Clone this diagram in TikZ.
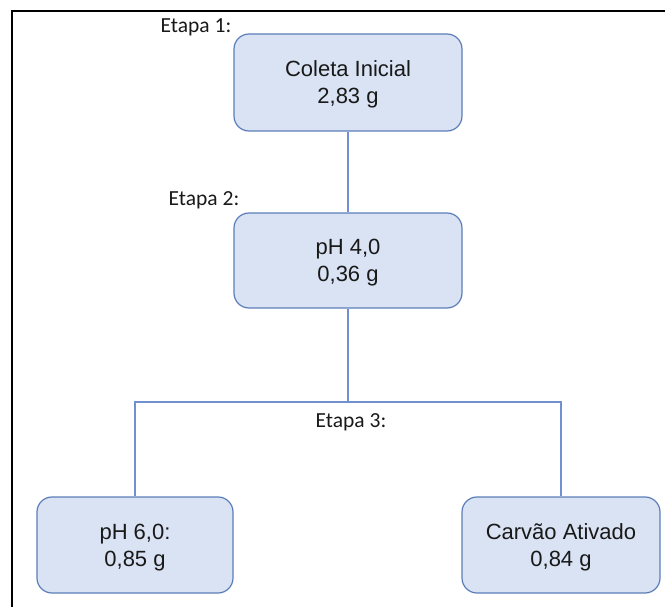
\documentclass[tikz,border=0pt]{standalone}
\usepackage{fontspec}
\setmainfont{Liberation Sans}
\newfontfamily\labelfont{Carlito}
\begin{document}
\begin{tikzpicture}[x=1pt,y=-1pt,
  stage/.style={draw=boxline, fill=boxfill, line width=1.2pt, rounded corners=15pt,
    align=center, inner sep=0pt, text=black!90, text depth=0pt,
    font=\fontsize{22}{27}\selectfont},
  link/.style={draw=linkcol, line width=1.1pt},
  etapa/.style={font=\labelfont\fontsize{21.5}{24}\selectfont, text=black!90, inner sep=0pt}]
\definecolor{boxfill}{HTML}{DAE3F3}
\definecolor{boxline}{HTML}{5B7DB8}
\definecolor{linkcol}{HTML}{7090D0}
\useasboundingbox (0,0) rectangle (665,607);
% frame
\draw[line width=2pt] (12,607) -- (12,11) -- (665,11);
% stages
\node[stage, minimum width=228pt, minimum height=97pt] (a) at (348,82.5) {Coleta Inicial\\2,83 g};
\node[stage, minimum width=228pt, minimum height=95pt] (b) at (348,260.5) {pH 4,0\\0,36 g};
\node[stage, minimum width=196pt, minimum height=96pt] (c) at (135,545) {pH 6,0:\\0,85 g};
\node[stage, minimum width=198pt, minimum height=96pt] (d) at (561,545) {Carvão Ativado\\0,84 g};
\coordinate (j) at (348,402);
% connectors
\draw[link] (a.south) -- (b.north);
\draw[link] (b.south) -- (j);
\draw[link] (c.north) |- (j) -| (d.north);
% stage labels
\node[etapa] (e1) at (196,27) {Etapa 1:};
\node[etapa] (e2) at (204,200) {Etapa 2:};
\node[etapa] (e3) at (351,422) {Etapa 3:};
\end{tikzpicture}
\end{document}
